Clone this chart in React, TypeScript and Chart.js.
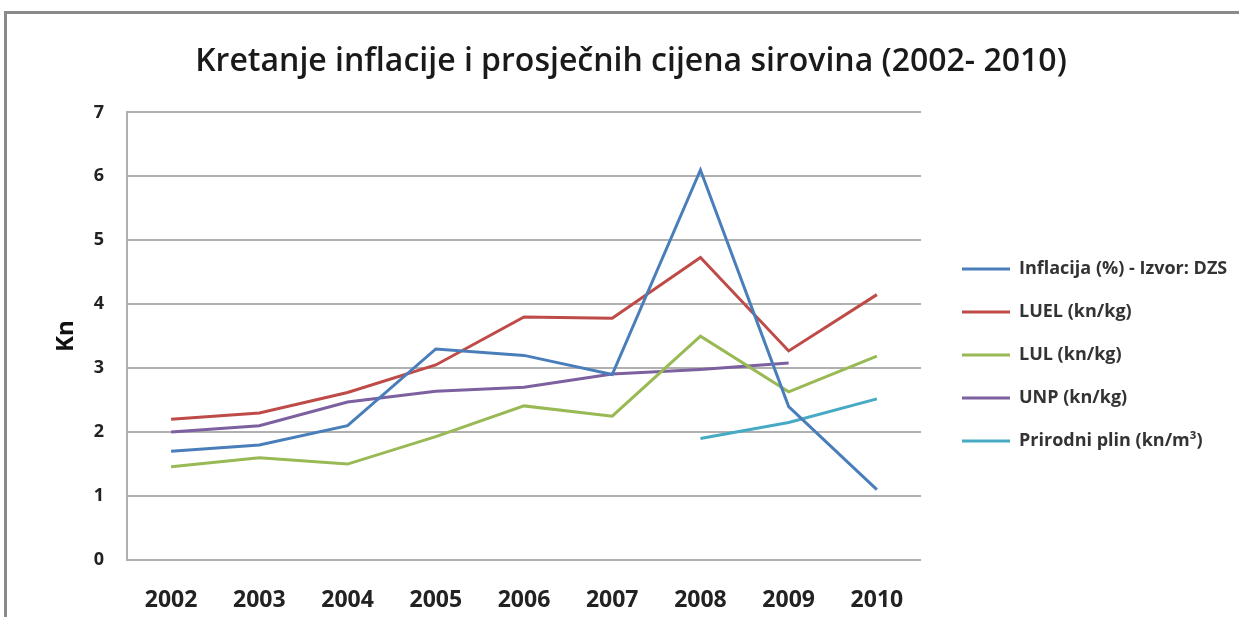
import React, { useEffect, useRef } from "react";
import { Chart, registerables } from "chart.js";

Chart.register(...registerables);

const years = ["2002", "2003", "2004", "2005", "2006", "2007", "2008", "2009", "2010"];
const inflacija = [1.7, 1.8, 2.1, 3.3, 3.2, 2.9, 6.1, 2.4, 1.1];
const luel = [2.2, 2.3, 2.62, 3.05, 3.8, 3.78, 4.73, 3.27, 4.15];
const lul = [1.46, 1.6, 1.5, 1.93, 2.41, 2.25, 3.5, 2.63, 3.19];
const unp = [2.0, 2.1, 2.47, 2.64, 2.7, 2.91, 2.98, 3.08, null];
const plin = [null, null, null, null, null, null, 1.9, 2.15, 2.52];

const seriesNames = [
  "Inflacija (%) - Izvor: DZS",
  "LUEL (kn/kg)",
  "LUL (kn/kg)",
  "UNP (kn/kg)",
  "Prirodni plin (kn/m³)",
];
const seriesColors = ["#4A7EBB", "#BE4B48", "#98B954", "#7D60A0", "#46AAC5"];
const titleText = "Kretanje inflacije i prosječnih cijena sirovina (2002- 2010)";
const yTitle = "Kn";

const FONT = "'Open Sans', 'DejaVu Sans', sans-serif";

export default function App() {
  const ref = useRef<HTMLCanvasElement | null>(null);

  useEffect(() => {
    if (!ref.current) return;
    const allData = [inflacija, luel, lul, unp, plin];
    const chart = new Chart(ref.current, {
      type: "line",
      data: {
        labels: years,
        datasets: allData.map((d, i) => ({
          label: seriesNames[i],
          data: d,
          borderColor: seriesColors[i],
          backgroundColor: seriesColors[i],
          borderWidth: 3,
          pointRadius: 0,
          tension: 0,
          fill: false,
        })),
      },
      options: {
        animation: false,
        responsive: false,
        maintainAspectRatio: false,
        layout: { padding: { top: 6, left: 30, right: 7, bottom: 7 } },
        plugins: {
          title: {
            display: true,
            text: titleText,
            color: "#1a1a1a",
            font: { family: FONT, size: 32, weight: "600" },
            padding: { top: 37, bottom: 31 },
          },
          legend: {
            position: "right",
            align: "center",
            maxWidth: 295,
            title: {
              display: true,
              text: "",
              font: { family: FONT, size: 1 },
              padding: { top: 93, bottom: 0 },
            },
            labels: {
              boxWidth: 48,
              boxHeight: 0,
              padding: 25,
              color: "#333",
              font: { family: FONT, size: 18, weight: "bold" },
            },
          },
          tooltip: { enabled: false },
        },
        scales: {
          x: {
            offset: true,
            grid: { display: false, drawTicks: false },
            border: { display: false },
            ticks: {
              color: "#222",
              padding: 27,
              font: { family: FONT, size: 23, weight: "bold" },
            },
            afterFit: (s: any) => {
              s.height = 50;
            },
          },
          y: {
            min: 0,
            max: 7,
            ticks: {
              stepSize: 1,
              color: "#222",
              padding: 23,
              font: { family: FONT, size: 18, weight: "bold" },
            },
            grid: { color: "#B0B0B0", lineWidth: 2, drawTicks: false },
            border: { display: true, color: "#B0B0B0", width: 2 },
            title: {
              display: true,
              text: yTitle,
              color: "#111",
              font: { family: FONT, size: 24, weight: "bold" },
              padding: { top: 22, bottom: 0 },
            },
            afterFit: (s: any) => {
              s.width = 97;
            },
          },
          gap: {
            position: "right",
            display: true,
            grid: { display: false, drawTicks: false },
            border: { display: false },
            ticks: { display: false },
            afterFit: (s: any) => {
              s.width = 16;
            },
          },
        },
      } as any,
    });
    return () => chart.destroy();
  }, []);

  return (
    <div style={{ position: "fixed", left: 0, top: 0, width: 1239, height: 617, background: "#fff", overflow: "hidden" }}>
      <div
        style={{
          position: "absolute",
          left: 4,
          top: 11,
          width: 1400,
          height: 800,
          borderTop: "3px solid #8a8a8a",
          borderLeft: "3px solid #8a8a8a",
        }}
      />
      <canvas ref={ref} width={1239} height={617} style={{ position: "absolute", left: 0, top: 0 }} />
    </div>
  );
}
